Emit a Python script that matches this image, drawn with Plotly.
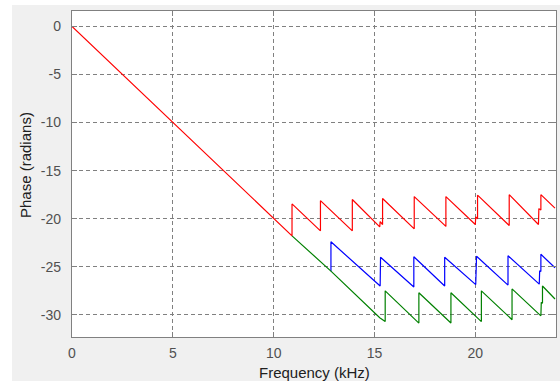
import plotly.graph_objects as go

# Unwrapped phase of the three responses (frequency in kHz, phase in radians)
red_f = [0, 5.0, 10.91, 10.91, 12.32, 12.32, 13.90, 13.90, 15.26, 15.28, 15.40, 15.40,
         16.97, 16.97, 18.54, 18.54, 20.00, 20.02, 20.11, 20.11, 21.68, 21.68,
         23.13, 23.15, 23.25, 23.25, 23.95]
red_phase = [0, -9.95, -21.78, -18.46, -21.26, -18.12, -21.26, -18.0, -20.85, -20.3, -20.6, -17.9,
             -21.05, -17.7, -20.8, -17.7, -20.6, -19.8, -20.0, -17.55, -20.7, -17.5,
             -20.6, -18.95, -19.1, -17.5, -18.9]

green_f = [10.91, 12.84, 15.26, 15.53, 15.53, 17.20, 17.20, 18.79, 18.79, 20.30, 20.30,
           21.82, 21.82, 23.25, 23.27, 23.33, 23.33, 23.95]
green_phase = [-21.78, -25.45, -30.3, -30.7, -27.5, -30.85, -27.7, -30.85, -27.7, -30.7, -27.5,
               -30.5, -27.3, -30.1, -28.7, -28.8, -27.0, -28.35]

blue_f = [12.84, 12.84, 15.28, 15.30, 16.95, 16.95, 18.48, 18.48, 20.02, 20.06,
          21.62, 21.62, 23.17, 23.19, 23.25, 23.25, 23.95]
blue_phase = [-25.45, -22.4, -27.0, -24.0, -27.1, -23.95, -27.0, -24.0, -26.85, -23.9,
              -26.9, -23.85, -26.8, -25.4, -25.5, -23.7, -25.1]

x_ticks = [0, 5, 10, 15, 20]
y_ticks = [0, -5, -10, -15, -20, -25, -30]

W, H = 560, 382
ML, MR, MT, MB = 72, 4, 11, 45
pw, ph = W - ML - MR, H - MT - MB


def px(x):
    return (x - ML) / pw


def py(y):
    return (H - MB - y) / ph


fig = go.Figure()
for f, p, c in [(red_f, red_phase, "#ff0000"),
                (blue_f, blue_phase, "#0000ff"),
                (green_f, green_phase, "#008000")]:
    fig.add_trace(go.Scatter(x=f, y=p, mode="lines",
                             line=dict(color=c, width=1.2), showlegend=False))

axis_common = dict(
    showline=True, linecolor="#808080", linewidth=1.3, mirror="ticks",
    ticks="inside", ticklen=5, tickcolor="#808080", tickwidth=1,
    showgrid=True, gridcolor="#808080", gridwidth=1, griddash="4px,3px",
    zeroline=False,
    tickfont=dict(family="Liberation Sans, Arial, sans-serif", size=14, color="#505050"),
)

fig.update_xaxes(range=[0, 24], tickvals=x_ticks, ticktext=[str(v) for v in x_ticks],
                 ticklabelstandoff=3, **axis_common)
fig.update_yaxes(range=[-32.3, 1.6], tickvals=y_ticks, ticktext=[str(v) for v in y_ticks],
                 ticklabelstandoff=7, **axis_common)

title_font = dict(family="Liberation Sans, Arial, sans-serif", size=15, color="#202020")
annotations = [
    dict(text="Frequency (kHz)", xref="paper", yref="paper", x=0.5, y=py(372.7),
         xanchor="center", yanchor="middle", showarrow=False, font=title_font),
    dict(text="Phase (radians)", xref="paper", yref="paper", x=px(25), y=py(165),
         xanchor="center", yanchor="middle", textangle=-90, showarrow=False, font=title_font),
]

# White strips around the grey figure panel
white = dict(type="rect", xref="paper", yref="paper", fillcolor="#ffffff",
             line=dict(width=0), layer="below")
shapes = [
    dict(white, x0=px(0), x1=px(12), y0=py(H), y1=py(0)),
    dict(white, x0=px(0), x1=px(W), y0=py(5), y1=py(0)),
    dict(white, x0=px(0), x1=px(W), y0=py(H), y1=py(381)),
]

fig.update_layout(
    width=W, height=H,
    margin=dict(l=ML, r=MR, t=MT, b=MB, pad=0),
    paper_bgcolor="#f0f0f0", plot_bgcolor="#ffffff",
    annotations=annotations, shapes=shapes,
    showlegend=False,
)

fig.write_html("out.html", config={"displayModeBar": False})
